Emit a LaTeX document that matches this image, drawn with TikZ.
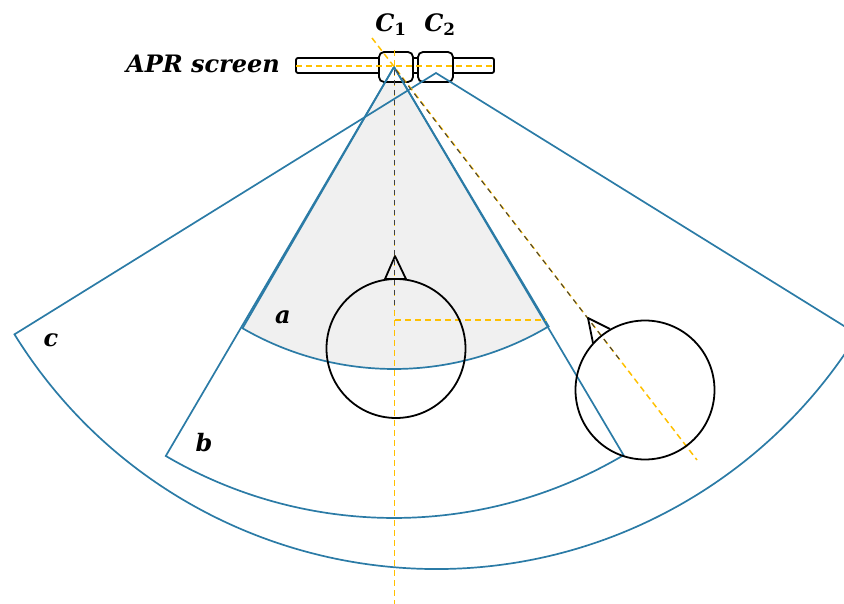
\documentclass[tikz,border=0pt]{standalone}
\usepackage{amsfonts, amsmath, amssymb}
\usepackage{xcolor}
\usepackage{fontspec}
\usepackage{tikz}
\setmainfont{DejaVu Serif}
\definecolor{sectorblue}{HTML}{2B7BA6}
\definecolor{guideyellow}{HTML}{FFC000}
\definecolor{sectorgray}{HTML}{F0F0F0}
\begin{document}
\begin{tikzpicture}[x=1pt, y=-1pt,
    sector/.style={draw=sectorblue, line width=1.7pt},
    guide/.style={draw=guideyellow, line width=1.5pt, dash pattern=on 6pt off 4pt},
    sightline/.style={draw=black!75, line width=1pt, dash pattern=on 5pt off 5pt},
    outline/.style={draw=black, line width=1.8pt},
    lbl/.style={font=\fontsize{24}{26}\selectfont\bfseries\itshape, inner sep=0pt}]
    \useasboundingbox (0,0) rectangle (844,604);
    \clip (0,0) rectangle (844,604);

    \coordinate (apexa) at (394,67);
    \coordinate (apexc) at (436,73);

    % shaded sector a
    \fill[sectorgray] (apexa) -- +(120.1:302) arc[start angle=120.1, end angle=59.2, radius=302] -- cycle;

    % screen
    \draw[outline, rounded corners=2pt] (296,58) rectangle (494,73);
    \draw[outline, fill=white, rounded corners=5pt] (379,52) rectangle (413,82);
    \draw[outline, fill=white, rounded corners=5pt] (418,52) rectangle (453,82);

    % viewing sectors
    \draw[sector] (apexa) -- +(120.1:302) arc[start angle=120.1, end angle=59.2, radius=302] -- cycle;
    \draw[sector] (apexa) -- +(120.4:451) arc[start angle=120.4, end angle=59.4, radius=451] -- cycle;
    \draw[sector] (apexc) -- +(148.2:496) arc[start angle=148.2, end angle=31.8, radius=496] -- cycle;

    % guides
    \draw[guide] (296,66) -- (494,66);
    \draw[guide] (394.5,50) -- (394.5,604);
    \draw[guide] (372,38) -- (697,460);
    \draw[guide] (395,320) -- (546,320);
    \draw[sightline] (394.5,70) -- (394.5,310);
    \draw[sightline] (396,70) -- (620,360);

    % head at the front
    \draw[outline] (396,348.5) circle (69.5);
    \draw[outline, line join=round] (385,279) -- (395,256) -- (406,279) -- cycle;

    % head turned to the side
    \draw[outline] (645,390) circle (69.5);
    \draw[outline, line join=round] (593,343) -- (588,318) -- (610,329);

    % labels
    \node[lbl] (screenlabel) at (203,64) {APR screen};
    \node[lbl] (labela) at (283,317) {a};
    \node[lbl] (labelb) at (204,443) {b};
    \node[lbl] (labelc) at (51,340) {c};
    \node[lbl] (cone) at (391,25) {C\textsubscript{\upshape 1}};
    \node[lbl] (ctwo) at (440,25) {C\textsubscript{\upshape 2}};
\end{tikzpicture}
\end{document}
